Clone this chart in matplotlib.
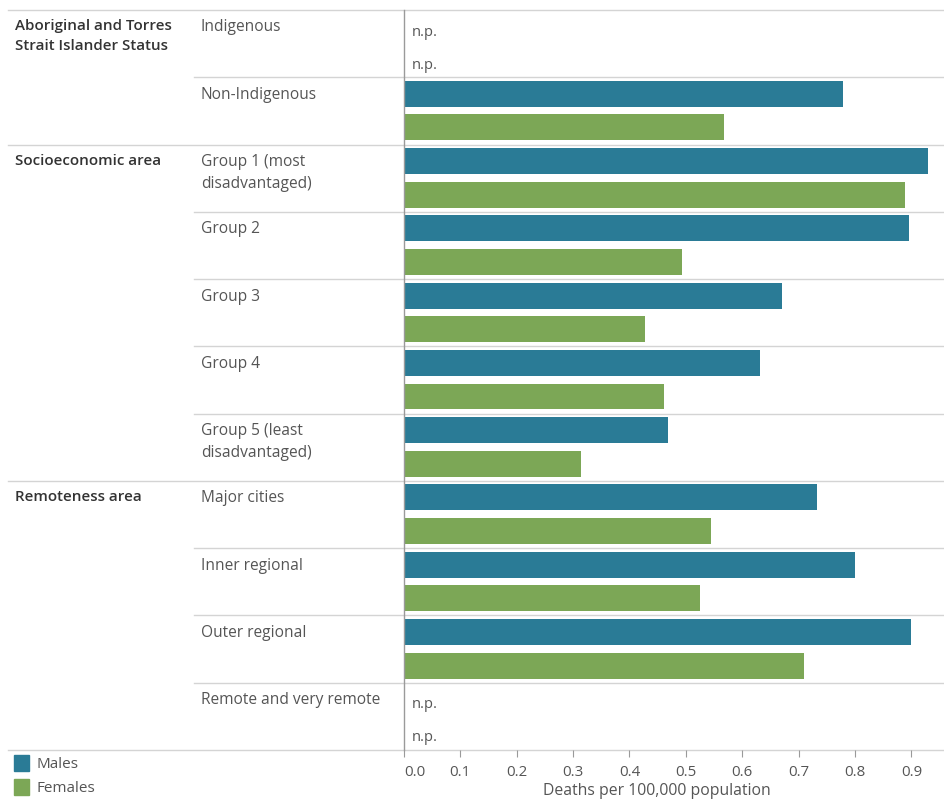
import matplotlib
matplotlib.use("Agg")
import matplotlib.pyplot as plt
import matplotlib.transforms as mtransforms
import numpy as np

plt.rcParams["font.family"] = ["Open Sans", "DejaVu Sans"]

GROUPS = [
    "Aboriginal and Torres\nStrait Islander Status",
    "Socioeconomic area",
    "Remoteness area",
]
CATEGORIES = [
    "Indigenous",
    "Non-Indigenous",
    "Group 1 (most\ndisadvantaged)",
    "Group 2",
    "Group 3",
    "Group 4",
    "Group 5 (least\ndisadvantaged)",
    "Major cities",
    "Inner regional",
    "Outer regional",
    "Remote and very remote",
]
CATEGORY_GROUP = [0, 0, 1, 1, 1, 1, 1, 2, 2, 2, 2]

# deaths per 100,000 population, nan = n.p.
MALES = [np.nan, 0.778, 0.930, 0.895, 0.670, 0.631, 0.469, 0.733, 0.800, 0.900, np.nan]
FEMALES = [np.nan, 0.568, 0.889, 0.494, 0.428, 0.462, 0.315, 0.545, 0.525, 0.709, np.nan]

X_TICKS = [0.0, 0.1, 0.2, 0.3, 0.4, 0.5, 0.6, 0.7, 0.8, 0.9]

MALE_COLOR = "#2a7b96"
FEMALE_COLOR = "#7ca756"
LINE_COLOR = "#d4d4d4"
TEXT_DARK = "#333333"
TEXT_GREY = "#555555"

W, H = 944, 805
fig = plt.figure(figsize=(W / 100, H / 100), dpi=100)
left_px, right_px, top_px, bottom_px = 403.8, 943.0, 10.0, 750.0
ax = fig.add_axes([left_px / W, 1 - bottom_px / H, (right_px - left_px) / W, (bottom_px - top_px) / H])

n = len(CATEGORIES)
rows = np.arange(n)
males = np.array(MALES)
females = np.array(FEMALES)

ax.barh(rows + 0.245, np.nan_to_num(males), height=0.385, color=MALE_COLOR, zorder=2)
ax.barh(rows + 0.745, np.nan_to_num(females), height=0.385, color=FEMALE_COLOR, zorder=2)

ax.set_ylim(n, 0)
ax.set_xlim(0, (right_px - left_px) / 564.0)
ax.set_yticks([])

for i in range(n):
    for off, val in ((0.38, males[i]), (0.87, females[i])):
        if np.isnan(val):
            ax.text(0.014, i + off, "n.p.", ha="left", va="baseline",
                    fontsize=10.5, color=TEXT_GREY)

# row labels and separators, x in figure pixels, y in data rows
trans = mtransforms.blended_transform_factory(fig.transFigure, ax.transData)
for i, cat in enumerate(CATEGORIES):
    ax.text(201 / W, i + 0.14, cat, transform=trans, ha="left", va="top",
            fontsize=11.2, color=TEXT_GREY, linespacing=1.5)
    first_in_group = i == 0 or CATEGORY_GROUP[i] != CATEGORY_GROUP[i - 1]
    if first_in_group:
        ax.text(15 / W, i + 0.14, GROUPS[CATEGORY_GROUP[i]], transform=trans,
                ha="left", va="top", fontsize=10.9, color=TEXT_DARK,
                fontweight="semibold", linespacing=1.5)
    x0 = 8 / W if first_in_group else 194 / W
    ax.plot([x0, 1.0], [i, i], transform=trans, color=LINE_COLOR, lw=1,
            clip_on=False, zorder=1)
ax.plot([8 / W, 1.0], [n, n], transform=trans, color=LINE_COLOR, lw=1,
        clip_on=False, zorder=1)

for side in ("top", "right", "bottom"):
    ax.spines[side].set_visible(False)
ax.spines["left"].set_color("#9a9a9a")
ax.spines["left"].set_linewidth(1)

ax.set_xticks(X_TICKS)
ax.set_xticklabels([f"{t:.1f}" for t in X_TICKS])
ax.tick_params(axis="x", length=5, color="#9a9a9a", labelsize=10.8,
               labelcolor=TEXT_GREY, pad=6)
first = ax.get_xticklabels()[0]
first.set_horizontalalignment("left")
ax.set_xlabel("Deaths per 100,000 population", fontsize=11.3, color=TEXT_GREY)
ax.xaxis.set_label_coords((657 - left_px) / (right_px - left_px), -0.045)

# legend
for k, (lab, col) in enumerate((("Males", MALE_COLOR), ("Females", FEMALE_COLOR))):
    yc = 763 + 24 * k
    fig.patches.append(plt.Rectangle((14 / W, 1 - (yc + 8) / H), 15 / W, 16 / H,
                                     transform=fig.transFigure, color=col))
    fig.text(37 / W, 1 - (yc + 1) / H, lab, ha="left", va="center", fontsize=11,
             color=TEXT_GREY)

fig.savefig("out.png", dpi=100)
